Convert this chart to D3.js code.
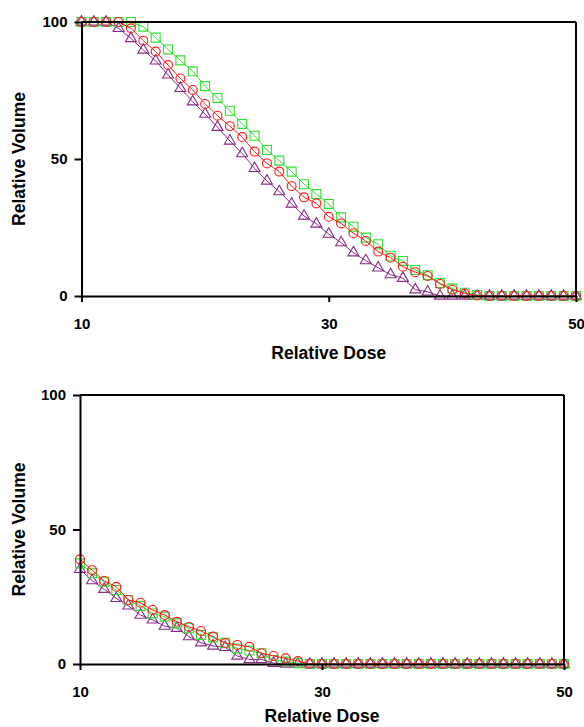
<!DOCTYPE html>
<html>
<head>
<meta charset="utf-8">
<script src="https://cdn.jsdelivr.net/npm/d3@7"></script>
<style>
  html, body { margin: 0; padding: 0; background: #fff; }
  svg { display: block; }
  text { font-family: "Liberation Sans", Arial, sans-serif; font-weight: bold; fill: #000; }
</style>
</head>
<body>
<svg id="chart" width="584" height="727"></svg>
<script>
// ---------- data ----------
const doses = [10,11,12,13,14,15,16,17,18,19,20,21,22,23,24,25,26,27,28,29,30,
               31,32,33,34,35,36,37,38,39,40,41,42,43,44,45,46,47,48,49,50];
const xTicks = [10, 30, 50];
const yTicks = [0, 50, 100];

// top panel
const topGreen  = [100,100,100,100,100,98.3,94.3,90,86,82,76.6,72.3,67.6,62.8,58.5,53.3,49.4,45.4,40.8,37.2,33.6,
                   28.7,25.3,21.3,18.9,14.7,12.8,9.5,7.6,4.7,2.7,1.2,0.4,0,0,0,0,0,0,0,0];
const topRed    = [100,100,100,100,97.7,93.2,89.2,84.3,79.4,75.2,70.1,65.8,62.0,58.0,52.7,48.4,45.4,40.1,36.0,33.8,28.9,
                   26.5,22.9,20.1,16.2,14.0,10.7,8.7,7.3,4.4,2.3,0.9,0.2,0,0,0,0,0,0,0,0];
const topPurple = [100,100,100,97.7,94,89.8,85.8,80.7,75.8,70.9,66.4,61.6,56.6,52,46.6,42,38.1,33.6,29.2,26.3,22.6,
                   19.5,15.8,12.9,10.3,7.8,6.5,2.3,1.5,0,0,0,0,0,0,0,0,0,0,0,0];

// bottom panel
const botGreen  = [37.4,33.7,30.6,27.5,23.8,21.6,18.8,17.6,15.1,13.3,10.8,9.9,7.9,5.8,5.0,4.0,1.5,0.9,0.3,0,0,
                   0,0,0,0,0,0,0,0,0,0,0,0,0,0,0,0,0,0,0,0];
const botRed    = [38.9,34.9,30.9,28.7,23.8,22.8,20.1,18.2,15.7,13.8,12.3,10.2,7.8,7.1,6.4,4.0,3.0,2.1,1.1,0,0,
                   0,0,0,0,0,0,0,0,0,0,0,0,0,0,0,0,0,0,0,0];
const botPurple = [35.2,31.0,27.8,24.4,21.6,18.2,16.4,14.1,13.3,10.2,7.9,6.7,6.2,3.0,1.7,1.7,0.3,0,0,0,0,
                   0,0,0,0,0,0,0,0,0,0,0,0,0,0,0,0,0,0,0,0];

const xLabel = "Relative Dose";
const yLabel = "Relative Volume";

// ---------- styles ----------
const GREEN = "#2ee02e", RED = "#ff1a1a", PURPLE = "#8a2a8a";

const svg = d3.select("#chart");

function panel(opts) {
  const { x0, x1, yTop, yBot, series, xTitleY, yTitleX } = opts;
  const x = d3.scaleLinear().domain([10, 50]).range([x0, x1]);
  const y = d3.scaleLinear().domain([0, 100]).range([yBot, yTop]);
  const g = svg.append("g");

  // series (lines + markers)
  series.forEach(s => {
    const pts = doses.map((d, i) => [d, s.values[i]]);
    g.append("path")
      .datum(pts)
      .attr("fill", "none")
      .attr("stroke", s.color)
      .attr("stroke-width", 1)
      .attr("d", d3.line().x(d => x(d[0])).y(d => y(d[1])));
    g.selectAll(null).data(pts).enter().append("path")
      .attr("transform", d => `translate(${x(d[0])},${y(d[1])})`)
      .attr("d", d3.symbol().type(s.symbol).size(s.size)())
      .attr("fill", "none")
      .attr("stroke", s.color)
      .attr("stroke-width", 1.1);
  });

  // frame (top & right)
  g.append("line").attr("x1", x0).attr("x2", x1).attr("y1", yTop).attr("y2", yTop)
    .attr("stroke", "#000").attr("stroke-width", 2);
  g.append("line").attr("x1", x1).attr("x2", x1).attr("y1", yTop).attr("y2", yBot)
    .attr("stroke", "#000").attr("stroke-width", 2);

  // axes
  const ax = g.append("g").attr("transform", `translate(0,${yBot})`)
    .call(d3.axisBottom(x).tickValues(xTicks).tickSize(6).tickPadding(16).tickSizeOuter(0));
  const ay = g.append("g").attr("transform", `translate(${x0},0)`)
    .call(d3.axisLeft(y).tickValues(yTicks).tickSize(7).tickPadding(7).tickSizeOuter(0));
  [ax, ay].forEach(a => {
    a.select(".domain").attr("stroke", "#000").attr("stroke-width", 2);
    a.selectAll(".tick line").attr("stroke", "#000").attr("stroke-width", 2);
    a.selectAll(".tick text").style("font-family", '"Liberation Sans", Arial, sans-serif')
      .style("font-weight", "bold").style("font-size", "15px").attr("fill", "#000");
  });

  // titles
  g.append("text")
    .attr("x", (x0 + x1) / 2).attr("y", xTitleY)
    .attr("text-anchor", "middle").style("font-size", "17.5px")
    .text(xLabel);
  g.append("text")
    .attr("transform", `translate(${yTitleX},${(yTop + yBot) / 2}) rotate(-90)`)
    .attr("text-anchor", "middle").style("font-size", "17.5px")
    .text(yLabel);
}

const mk = (p, g, r) => [
  { values: p, color: PURPLE, symbol: d3.symbolTriangle, size: 52 },
  { values: g, color: GREEN,  symbol: d3.symbolSquare,   size: 80 },
  { values: r, color: RED,    symbol: d3.symbolCircle,   size: 62 }
];

panel({ x0: 81.5, x1: 576, yTop: 22, yBot: 296,
        series: mk(topPurple, topGreen, topRed), xTitleY: 359, yTitleX: 25 });
panel({ x0: 80, x1: 564, yTop: 395, yBot: 664,
        series: mk(botPurple, botGreen, botRed), xTitleY: 722, yTitleX: 25 });
</script>
</body>
</html>
